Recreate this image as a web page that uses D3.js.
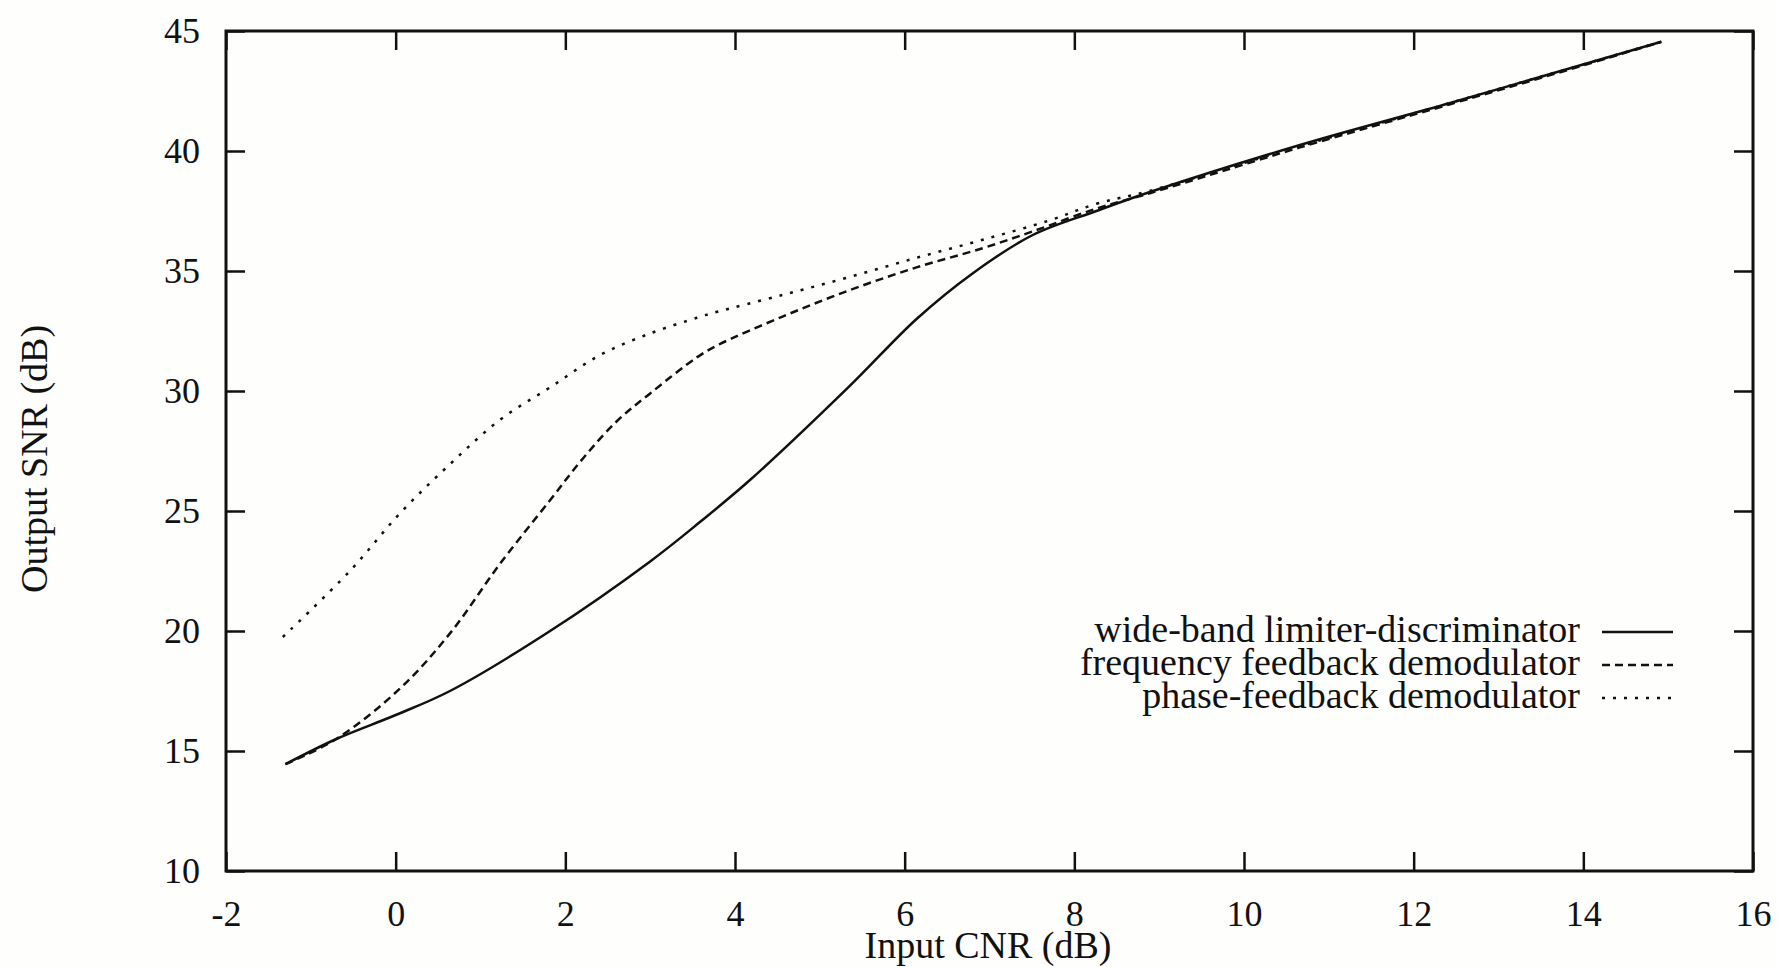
<!DOCTYPE html>
<html lang="en">
<head>
    <meta charset="UTF-8">
    <title>Output SNR vs Input CNR</title>
    <script src="https://d3js.org/d3.v7.min.js"></script>
    <style>
        body {
            margin: 0;
            background: #fefefc;
        }

        text {
            font-family: "Liberation Serif", "Times New Roman", serif;
            fill: #111;
        }

        .curve {
            fill: none;
            stroke: #111;
            stroke-width: 2.5;
        }
    </style>
</head>
<body>
    <svg id="chart" width="1777" height="967"></svg>
    <script>
        // ticks
        const xTicks = [-2, 0, 2, 4, 6, 8, 10, 12, 14, 16];
        const yTicks = [10, 15, 20, 25, 30, 35, 40, 45];

        // series: [input CNR, output SNR]
        const wideBand = [
            [-1.3, 14.45], [-0.7, 15.5], [0, 16.5], [0.64, 17.5], [1.82, 20.0],
            [3.0, 22.9], [3.59, 24.55], [4.18, 26.3], [5.35, 30.2], [6.14, 33.0],
            [6.8, 34.9], [7.51, 36.5], [8.26, 37.5], [8.9, 38.3], [10.66, 40.25],
            [12.43, 42.0], [13.6, 43.2], [14.92, 44.55]
        ];
        const freqFeedback = [
            [-1.3, 14.45], [-0.7, 15.5], [0.05, 17.6], [0.64, 19.9], [1.23, 22.8],
            [1.82, 25.45], [2.21, 27.2], [2.61, 28.75], [3.0, 29.9], [3.55, 31.4],
            [3.79, 31.9], [4.56, 33.1], [5.35, 34.2], [6.14, 35.15], [6.92, 35.95],
            [7.51, 36.65], [8.26, 37.6], [8.9, 38.25], [10.66, 40.15], [12.43, 41.95],
            [13.6, 43.15], [14.92, 44.55]
        ];
        const phaseFeedback = [
            [-1.33, 19.75], [-0.54, 22.5], [0.05, 24.9], [0.64, 26.95], [1.23, 28.8],
            [1.82, 30.15], [2.41, 31.5], [3.0, 32.4], [3.55, 33.05], [3.79, 33.3],
            [4.56, 34.0], [5.35, 34.75], [6.14, 35.55], [6.92, 36.3], [7.7, 37.1],
            [8.26, 37.8], [8.9, 38.35], [10.66, 40.2], [12.43, 42.0], [13.6, 43.2],
            [14.92, 44.55]
        ];

        const seriesNames = [
            "wide-band limiter-discriminator",
            "frequency feedback demodulator",
            "phase-feedback demodulator"
        ];
        const seriesData = [wideBand, freqFeedback, phaseFeedback];
        const dashes = [null, "8,5", "3,8"];

        const svg = d3.select("#chart");

        const x = d3.scaleLinear().domain([-2, 16]).range([226, 1753]);
        const y = d3.scaleLinear().domain([10, 45]).range([871, 31]);

        const tickLen = 19;

        // bottom axis with labels
        const axBottom = svg.append("g")
            .attr("transform", `translate(0,${y(10)})`)
            .call(d3.axisBottom(x).tickValues(xTicks).tickSizeInner(-tickLen).tickSizeOuter(0).tickPadding(29));
        // top axis mirror
        const axTop = svg.append("g")
            .attr("transform", `translate(0,${y(45)})`)
            .call(d3.axisTop(x).tickValues(xTicks).tickSizeInner(-tickLen).tickSizeOuter(0).tickFormat(""));
        // left axis with labels
        const axLeft = svg.append("g")
            .attr("transform", `translate(${x(-2)},0)`)
            .call(d3.axisLeft(y).tickValues(yTicks).tickSizeInner(-tickLen).tickSizeOuter(0).tickPadding(26));
        // right axis mirror
        const axRight = svg.append("g")
            .attr("transform", `translate(${x(16)},0)`)
            .call(d3.axisRight(y).tickValues(yTicks).tickSizeInner(-tickLen).tickSizeOuter(0).tickFormat(""));

        [axBottom, axTop, axLeft, axRight].forEach(g => {
            g.select(".domain").remove();
            g.selectAll(".tick line").attr("stroke", "#111").attr("stroke-width", 2.5);
            g.selectAll(".tick text")
                .style("font-family", '"Liberation Serif", serif')
                .style("font-size", "36px")
                .attr("fill", "#111");
        });
        axBottom.selectAll(".tick text").attr("dy", "0.71em").text(d => d < 0 ? "-" + Math.abs(d) : d);
        axLeft.selectAll(".tick text").attr("dy", "0.33em");

        // frame
        svg.append("rect")
            .attr("x", x(-2))
            .attr("y", y(45))
            .attr("width", x(16) - x(-2))
            .attr("height", y(10) - y(45))
            .attr("fill", "none")
            .attr("stroke", "#111")
            .attr("stroke-width", 3);

        // curves
        const line = d3.line()
            .x(d => x(d[0]))
            .y(d => y(d[1]))
            .curve(d3.curveCatmullRom.alpha(0.5));

        seriesData.forEach((data, i) => {
            svg.append("path")
                .datum(data)
                .attr("class", "curve")
                .attr("stroke-dasharray", dashes[i])
                .attr("d", line);
        });

        // legend
        const legendY = [642, 675, 708];
        seriesNames.forEach((name, i) => {
            svg.append("text")
                .attr("x", 1580)
                .attr("y", legendY[i])
                .attr("text-anchor", "end")
                .style("font-size", "38px")
                .text(name);
            svg.append("line")
                .attr("x1", 1602)
                .attr("x2", 1673)
                .attr("y1", legendY[i] - 10)
                .attr("y2", legendY[i] - 10)
                .attr("stroke", "#111")
                .attr("stroke-width", 2.5)
                .attr("stroke-dasharray", dashes[i]);
        });

        // axis titles
        svg.append("text")
            .attr("x", 988)
            .attr("y", 958)
            .attr("text-anchor", "middle")
            .style("font-size", "38px")
            .text("Input CNR (dB)");

        svg.append("text")
            .attr("transform", "translate(47,459) rotate(-90)")
            .attr("text-anchor", "middle")
            .style("font-size", "38px")
            .text("Output SNR (dB)");
    </script>
</body>
</html>
